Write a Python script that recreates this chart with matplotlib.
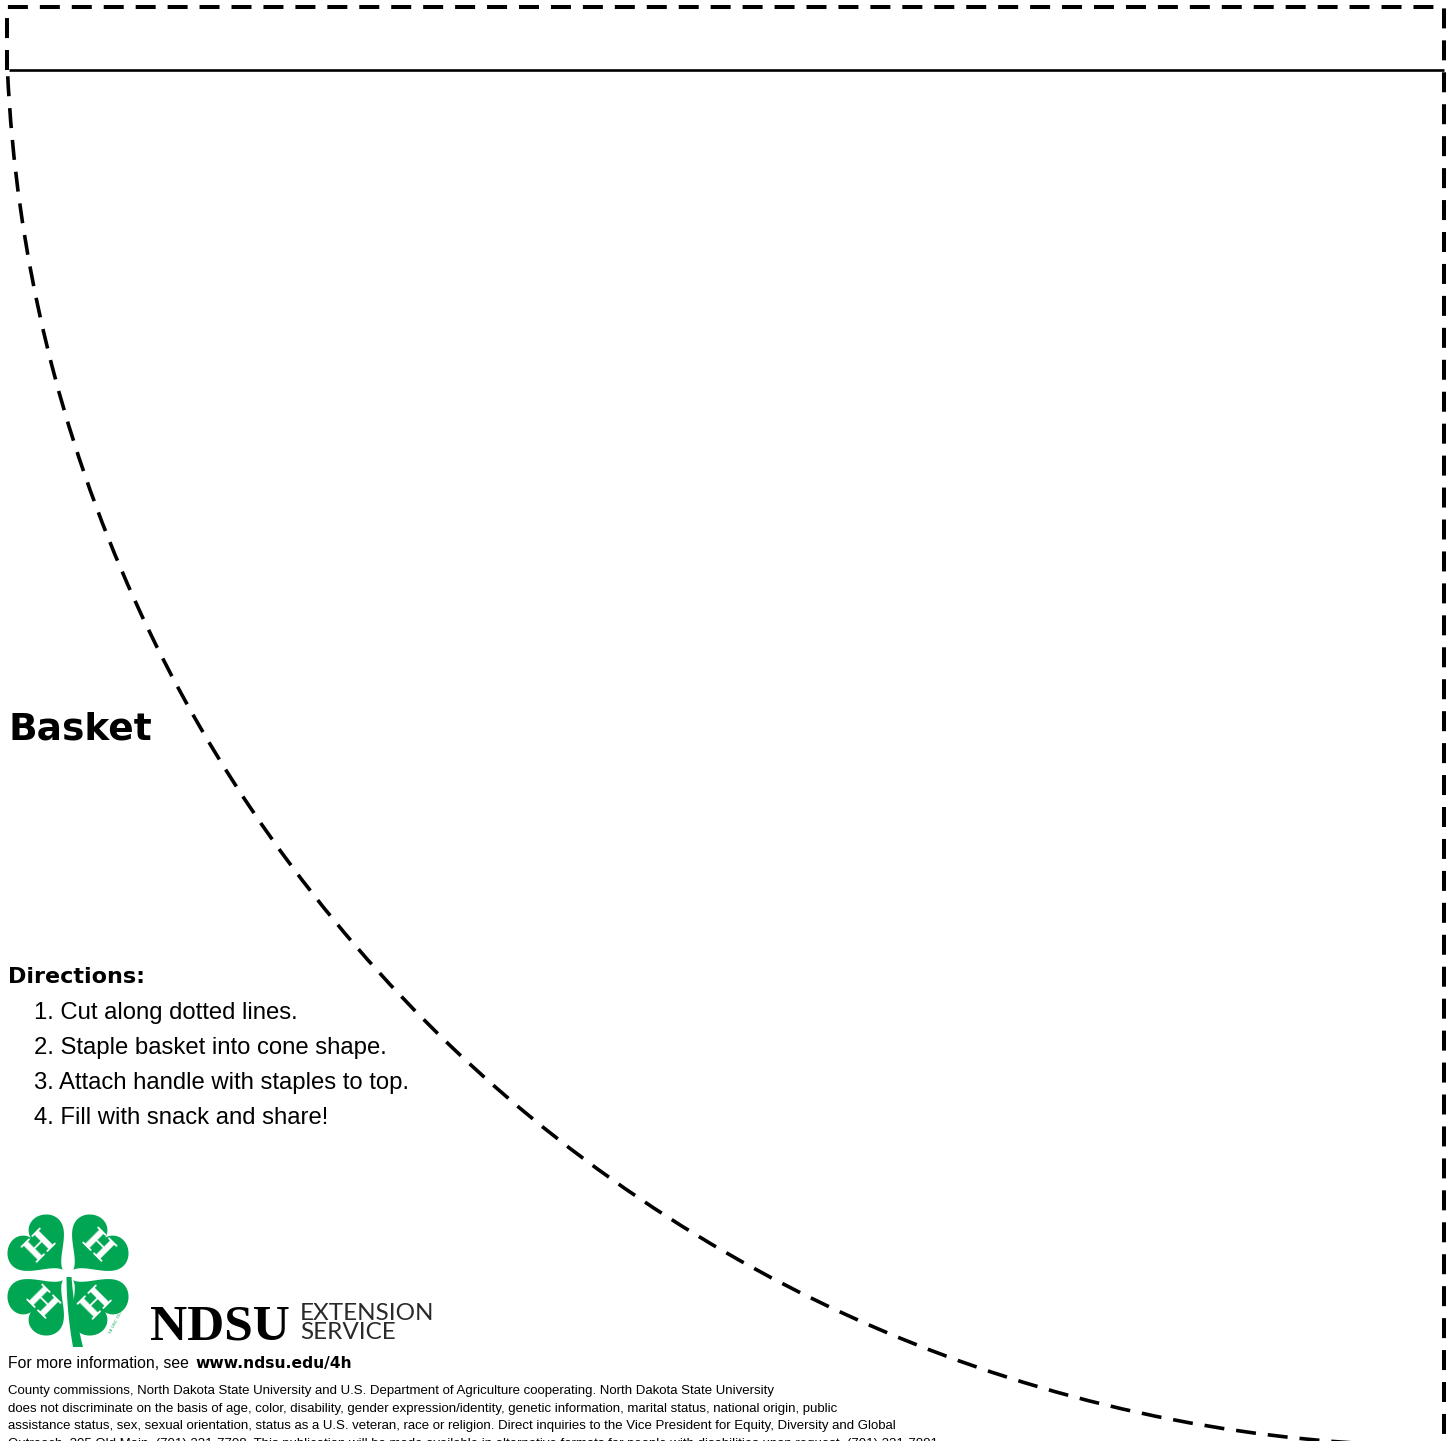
import numpy as np
import matplotlib
matplotlib.use("Agg")
import matplotlib.pyplot as plt
from matplotlib.patches import Arc, Polygon

plt.rcParams["lines.scale_dashes"] = False

# page content
title = "Basket"
directions_heading = "Directions:"
directions = [
    "1. Cut along dotted lines.",
    "2. Staple basket into cone shape.",
    "3. Attach handle with staples to top.",
    "4. Fill with snack and share!",
]
info_prefix = "For more information, see "
info_link = "www.ndsu.edu/4h"
footer_lines = [
    "County commissions, North Dakota State University and U.S. Department of Agriculture cooperating. North Dakota State University",
    "does not discriminate on the basis of age, color, disability, gender expression/identity, genetic information, marital status, national origin, public",
    "assistance status, sex, sexual orientation, status as a U.S. veteran, race or religion. Direct inquiries to the Vice President for Equity, Diversity and Global",
    "Outreach, 205 Old Main, (701) 231-7708. This publication will be made available in alternative formats for people with disabilities upon request, (701) 231-7881.",
]
logo_word = "NDSU"
logo_sub = ["EXTENSION", "SERVICE"]

W, H = 1448, 1441
GREEN = "#00a651"
DASH = (0, (14.4, 8.6))

fig = plt.figure(figsize=(W / 100, H / 100), dpi=100)
ax = fig.add_axes([0, 0, 1, 1])
ax.set_xlim(0, W)
ax.set_ylim(H, 0)
ax.axis("off")

# cut outline: left stub, top edge, right edge
ax.plot([7, 7, 1444, 1444], [70, 7, 7, H + 5], color="black", lw=2.9,
        linestyle=DASH, solid_joinstyle="miter", dash_capstyle="butt")
# fold line under the handle strip
ax.plot([9, 1444], [70, 70], color="black", lw=1.9, solid_capstyle="butt")
# quarter circle centred on the top-right corner
r = 1441
start = 180 - np.degrees(np.arcsin(65 / r))
ax.add_patch(Arc((1447, 5), 2 * r, 2 * r, theta1=90, theta2=start,
                 color="black", lw=2.6, linestyle=DASH))

# title and directions
ax.text(8, 739, title, fontsize=27, fontweight="heavy", family="DejaVu Sans",
        va="baseline", ha="left")
ax.text(8, 983, directions_heading, fontsize=16, fontweight="bold",
        family="DejaVu Sans", va="baseline", ha="left")
for i, step in enumerate(directions):
    ax.text(34, 1019 + 35 * i, step, fontsize=17.2, family="Liberation Sans",
            va="baseline", ha="left")


# 4-H clover
def heart(n=200):
    t = np.linspace(0, 2 * np.pi, n)
    x = 16 * np.sin(t) ** 3
    y = 13 * np.cos(t) - 4 * np.cos(2 * t) - 2 * np.cos(3 * t) - np.cos(4 * t)
    return x, y + 16


cx, cy = 68, 1275
hx, hy = heart()
for sx, sy, rot in [(-1, -1, 45), (1, -1, -45), (-1, 1, -45), (1, 1, 45)]:
    d = np.array([sx, sy]) / np.sqrt(2)
    p = np.array([-d[1], d[0]])
    s = 2.05
    pts = np.column_stack([cx + d[0] * 7 + s * (hy * d[0] + hx * p[0]),
                           cy + d[1] * 7 + s * (hy * d[1] + hx * p[1])])
    ax.add_patch(Polygon(pts, closed=True, color=GREEN, lw=0))
    lx, ly = cx + d[0] * 40, cy + d[1] * 40
    ax.text(lx, ly, "H", fontsize=23, fontweight="bold", family="DejaVu Serif",
            color="white", rotation=rot, ha="center", va="center",
            rotation_mode="anchor")

# stem
tt = np.linspace(0, 1, 40)
sxp = cx + 1 + 3 * tt + 6 * tt ** 2
syp = cy + 2 + 70 * tt
wid = 2.5 + 2.5 * tt
stem = np.concatenate([np.column_stack([sxp - wid, syp]),
                       np.column_stack([sxp + wid, syp])[::-1]])
ax.add_patch(Polygon(stem, closed=True, color=GREEN, lw=0))
ax.text(116, 1322, "18 USC 707", fontsize=3.2, color=GREEN, rotation=62,
        ha="center", va="center")

# NDSU Extension wordmark
ax.text(150, 1340, logo_word, fontsize=37, family="Liberation Serif",
        fontweight="bold", va="baseline", ha="left")
ax.text(300, 1320, logo_sub[0], fontsize=17.5, family="Lato",
        color="#2a2a2a", va="baseline", ha="left")
ax.text(300, 1339, logo_sub[1], fontsize=17.5, family="Lato",
        color="#2a2a2a", va="baseline", ha="left")

# contact + footer
t1 = ax.text(8, 1368, info_prefix, fontsize=11.3, family="Liberation Sans",
             va="baseline", ha="left")
fig.canvas.draw()
bb = t1.get_window_extent()
ax.text(bb.x1 + 2, 1368, info_link, fontsize=11.2, family="DejaVu Sans",
        fontweight="heavy", va="baseline", ha="left")
for i, line in enumerate(footer_lines):
    ax.text(8, 1394 + 17.6 * i, line, fontsize=9.5,
            family="Liberation Sans", va="baseline", ha="left")

fig.savefig("out.png", dpi=100)
